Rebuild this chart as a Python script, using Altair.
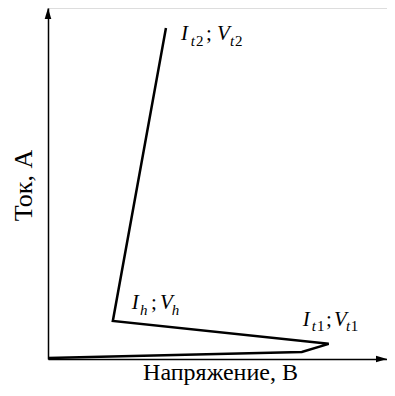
import altair as alt
import pandas as pd

# Curve (unitless)
curve_x = [0.0, 73.6, 81.4, 18.8, 34.2]
curve_y = [0.3, 2.0, 4.3, 10.8, 94.0]

# Label pieces: text, x, y, style
lab_text = ["I", "t", "2", ";", "V", "t", "2",
            "I", "h", ";", "V", "h",
            "I", "t", "1", ";", "V", "t", "1"]
lab_x = [38.6, 41.4, 42.9, 45.8, 49.0, 52.8, 54.2,
         24.3, 26.7, 29.9, 32.5, 35.9,
         73.9, 76.5, 78.0, 80.6, 82.9, 86.4, 87.8]
lab_y = [90.6, 88.9, 88.9, 90.6, 90.6, 88.9, 88.9,
         14.2, 12.5, 14.2, 14.2, 12.5,
         9.4, 8.0, 8.0, 9.4, 9.4, 8.0, 8.0]
lab_style = ["mi", "si", "sr", "mr", "mi", "si", "sr",
             "mi", "si", "mr", "mi", "si",
             "mi", "si", "sr", "mr", "mi", "si", "sr"]

X_MAX = 98.3
Y_MAX = 99.7

FONT = "Liberation Serif"

curve = pd.DataFrame({"x": curve_x, "y": curve_y, "o": list(range(len(curve_x)))})
labels = pd.DataFrame({"t": lab_text, "x": lab_x, "y": lab_y, "s": lab_style})

xs = alt.Scale(domain=[0, X_MAX], nice=False, zero=False)
ys = alt.Scale(domain=[0, Y_MAX], nice=False, zero=False)

base_axis = dict(ticks=False, labels=False, grid=False, domainColor="black",
                 domainWidth=1.5, titleFont=FONT,
                 titleFontWeight="normal", titleColor="black")

line = alt.Chart(curve).mark_line(color="black", strokeWidth=2.5, strokeJoin="miter").encode(
    x=alt.X("x:Q", scale=xs, axis=alt.Axis(title="Напряжение, В", titlePadding=1,
                                           titleFontSize=24, titleX=172, **base_axis)),
    y=alt.Y("y:Q", scale=ys, axis=alt.Axis(title="Ток, А", titlePadding=12, titleY=177,
                                           titleFontSize=26, **base_axis)),
    order="o:O",
)

arrows = pd.DataFrame({"x": [0, X_MAX], "y": [Y_MAX, 0], "d": ["up", "right"]})
up = alt.Chart(arrows).transform_filter(alt.datum.d == "up").mark_point(
    shape="M0,0L0.6,2L-0.6,2Z", size=121, filled=True, color="black", opacity=1
).encode(x=alt.X("x:Q", scale=xs), y=alt.Y("y:Q", scale=ys))
right = alt.Chart(arrows).transform_filter(alt.datum.d == "right").mark_point(
    shape="M0,0L-2,-0.6L-2,0.6Z", size=121, filled=True, color="black", opacity=1
).encode(x=alt.X("x:Q", scale=xs), y=alt.Y("y:Q", scale=ys))

def txt(style, size, fstyle):
    return alt.Chart(labels).transform_filter(alt.datum.s == style).mark_text(
        font=FONT, fontSize=size, fontStyle=fstyle, align="left",
        baseline="alphabetic", color="black"
    ).encode(x=alt.X("x:Q", scale=xs), y=alt.Y("y:Q", scale=ys), text="t:N")

chart = alt.layer(
    line, up, right,
    txt("mi", 21, "italic"), txt("mr", 21, "normal"),
    txt("si", 15, "italic"), txt("sr", 15, "normal"),
).properties(
    width=339, height=351,
    autosize=alt.AutoSizeParams(type="none"),
    padding={"left": 40, "top": 0, "right": 0, "bottom": 29},
).configure_view(stroke=None).configure(background="white")

chart.save("out.html", embed_options={"renderer": "svg", "actions": False})
